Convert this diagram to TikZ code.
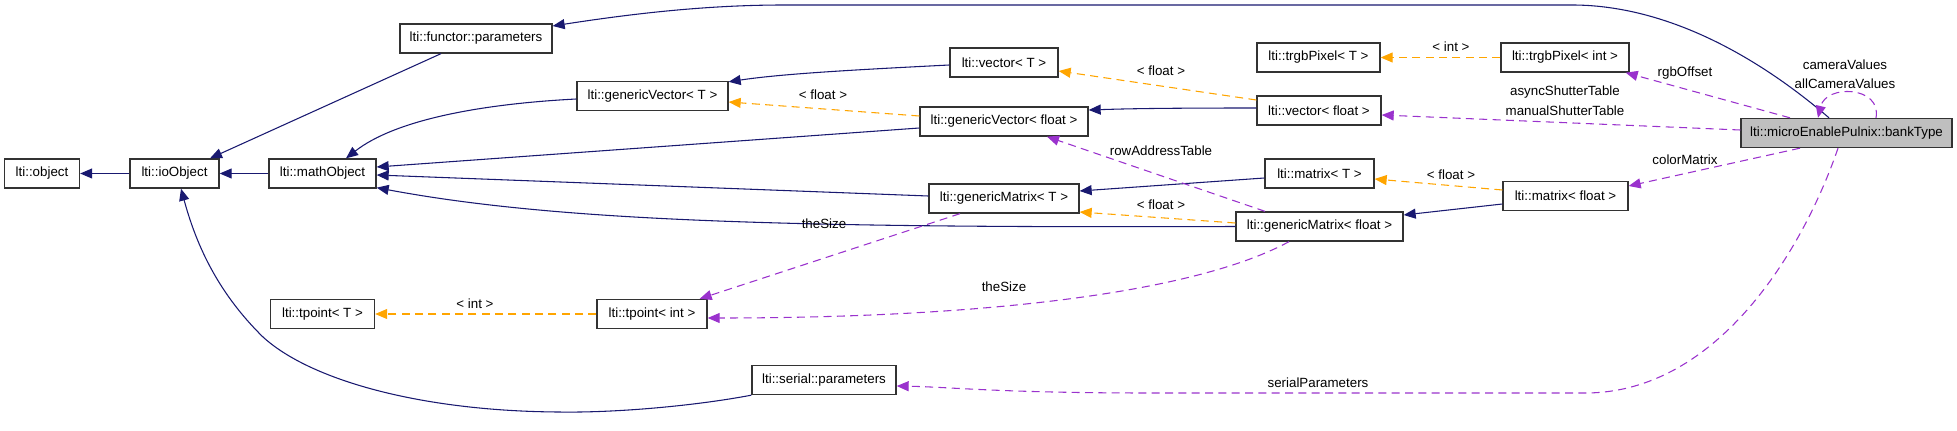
\documentclass[tikz,border=0pt]{standalone}
\usepackage{fontspec}
\setmainfont{Liberation Sans}
\usetikzlibrary{arrows.meta}
\definecolor{navy}{HTML}{191970}
\definecolor{dorange}{HTML}{FFA500}
\definecolor{dpurple}{HTML}{9A32CD}
\begin{document}
\begin{tikzpicture}[x=0.75pt,y=-0.75pt,
  cls/.style={draw=black!80, line width=1pt, minimum height=21.75pt, inner sep=0pt, font=\fontsize{10}{12}\selectfont},
  tip/.style={-{Triangle[length=9pt,width=7.5pt]}},
  inh/.style={navy, line width=0.8pt, tip},
  tmpl/.style={dorange, line width=0.8pt, dash pattern=on 6pt off 4pt, tip},
  usage/.style={dpurple, line width=0.8pt, dash pattern=on 6pt off 4pt, tip},
  lbl/.style={font=\fontsize{10}{12}\selectfont, inner sep=1pt}
]
\useasboundingbox (0,0) rectangle (1957,431);
% nodes
\node[cls, minimum width=56.25pt] (object) at (42,173.5) {lti::object};
\node[cls, minimum width=66.75pt] (ioObject) at (174.5,173.5) {lti::ioObject};
\node[cls, minimum width=80.25pt] (mathObject) at (322.5,173.5) {lti::mathObject};
\node[cls, minimum width=114pt] (functor) at (476,38.5) {lti::functor::parameters};
\node[cls, minimum width=113.25pt] (gvT) at (652.5,96) {lti::genericVector< T >};
\node[cls, minimum width=81pt] (vT) at (1004,62.5) {lti::vector< T >};
\node[cls, minimum width=126pt] (gvF) at (1004,121.5) {lti::genericVector< float >};
\node[cls, minimum width=92.25pt] (trgbT) at (1318.5,57.5) {lti::trgbPixel< T >};
\node[cls, minimum width=93pt] (vF) at (1319,110.5) {lti::vector< float >};
\node[cls, minimum width=81.75pt] (mT) at (1319.5,173.5) {lti::matrix< T >};
\node[cls, minimum width=112.5pt] (gmT) at (1004,198.5) {lti::genericMatrix< T >};
\node[cls, minimum width=125.25pt] (gmF) at (1319.5,226.5) {lti::genericMatrix< float >};
\node[cls, minimum width=78pt] (tpT) at (322.5,314) {lti::tpoint< T >};
\node[cls, minimum width=82.5pt] (tpI) at (652,314) {lti::tpoint< int >};
\node[cls, minimum width=108pt] (serial) at (824,380) {lti::serial::parameters};
\node[cls, minimum width=96pt] (trgbI) at (1565,57.5) {lti::trgbPixel< int >};
\node[cls, minimum width=93.75pt] (mF) at (1565.5,196) {lti::matrix< float >};
\node[cls, minimum width=158.25pt, fill=black!25] (bank) at (1846.5,133) {lti::microEnablePulnix::bankType};
% inheritance edges
\draw[inh] (ioObject.west) -- (object.east);
\draw[inh] (mathObject.west) -- (ioObject.east);
\draw[inh] ([shift={(-35,0)}]functor.south) -- ([shift={(35.5,0)}]ioObject.north);
\draw[inh] ([shift={(0,3)}]gvT.west) .. controls (480,104) and (395,120) .. ([shift={(23.5,0)}]mathObject.north);
\draw[inh] ([shift={(0,6.5)}]gvF.west) -- ([shift={(0,-6.5)}]mathObject.east);
\draw[inh] ([shift={(0,-2.5)}]gmT.west) -- ([shift={(0,1.5)}]mathObject.east);
\draw[inh] (gmF.west) .. controls (800,228) and (560,222) .. ([shift={(0,-1)}]mathObject.south east);
\draw[inh] ([shift={(0,2.5)}]vT.west) .. controls (850,70) and (780,74) .. ([shift={(0,1)}]gvT.north east);
\draw[inh] ([shift={(0,-2.5)}]vF.west) .. controls (1150,108) and (1120,109) .. ([shift={(0,-11.5)}]gvF.east);
\draw[inh] ([shift={(0,4.5)}]mT.west) -- ([shift={(0,-7.5)}]gmT.east);
\draw[inh] ([shift={(0,8)}]mF.west) -- ([shift={(0,-11.5)}]gmF.east);
\draw[inh] (serial.south west) .. controls (700,405) and (620,413) .. (558,412)
  .. controls (420,411) and (310,380) .. (263,337)
  .. controls (215,290) and (195,240) .. ([shift={(6.5,0)}]ioObject.south);
\draw[inh] ([shift={(-17.5,0)}]bank.north) .. controls (1750,50) and (1660,5) .. (1572,5)
  -- (784,5) .. controls (705,5) and (630,14) .. ([shift={(0,-12.5)}]functor.east);
% template edges
\draw[tmpl] ([shift={(0,-5.5)}]gvF.west) -- ([shift={(0,6)}]gvT.east);
\node[lbl] (l9) at (823,95) {< float >};
\draw[tmpl] ([shift={(0,-10.5)}]vF.west) -- ([shift={(0,8.5)}]vT.east);
\node[lbl] (l10) at (1161,71) {< float >};
\draw[tmpl] (trgbI.west) -- (trgbT.east);
\node[lbl] (l12) at (1451,47) {< int >};
\draw[tmpl] ([shift={(0,-3.5)}]gmF.west) -- ([shift={(0,13.5)}]gmT.east);
\node[lbl] (l14) at (1161,205) {< float >};
\draw[tmpl] ([shift={(0,-6)}]mF.west) -- ([shift={(0,5.5)}]mT.east);
\node[lbl] (l15) at (1451,175) {< float >};
\draw[tmpl] (tpI.west) -- (tpT.east);
\node[lbl] (l17) at (475,304) {< int >};
% usage edges
\draw[usage] ([shift={(29.5,0)}]bank.north) .. controls (1882,86) and (1826,84) .. ([shift={(-28.5,0)}]bank.north);
\node[lbl] (l20a) at (1845,65) {cameraValues};
\node[lbl] (l20b) at (1845,84) {allCameraValues};
\draw[usage] ([shift={(-56.5,0)}]bank.north) -- ([shift={(-4,0)}]trgbI.south east);
\node[lbl] (l21) at (1685,73) {rgbOffset};
\draw[usage] ([shift={(0,-3)}]bank.west) -- ([shift={(0,4.5)}]vF.east);
\node[lbl] (l22a) at (1565,92) {asyncShutterTable};
\node[lbl] (l22b) at (1565,111) {manualShutterTable};
\draw[usage] ([shift={(-46.5,0)}]bank.south) -- ([shift={(0,-10)}]mF.east);
\node[lbl] (l23) at (1685,160) {colorMatrix};
\draw[usage] ([shift={(-8.5,0)}]bank.south) .. controls (1805,245) and (1720,393) .. (1585,393)
  -- (1150,393) .. controls (1000,393) and (950,387) .. ([shift={(0,6)}]serial.east);
\node[lbl] (l24) at (1318,383) {serialParameters};
\draw[usage] ([shift={(-54.5,0)}]gmF.north) -- ([shift={(43,0)}]gvF.south);
\node[lbl] (l25) at (1161,151) {rowAddressTable};
\draw[usage] ([shift={(-44,0)}]gmT.south) -- ([shift={(-8,0)}]tpI.north east);
\node[lbl] (l26) at (824,224) {theSize};
\draw[usage] ([shift={(-30.5,0)}]gmF.south) .. controls (1200,290) and (1000,318) .. ([shift={(0,4)}]tpI.east);
\node[lbl] (l27) at (1004,287) {theSize};
\end{tikzpicture}
\end{document}
